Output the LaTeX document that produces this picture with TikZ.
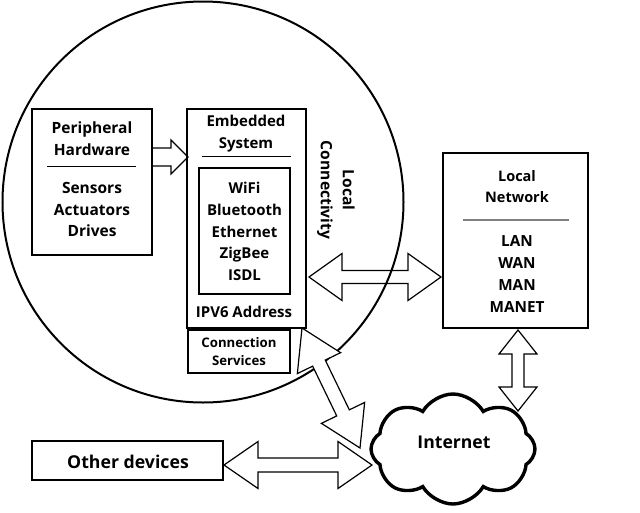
\documentclass[tikz,border=0pt]{standalone}
\usepackage{fontspec}
\setmainfont{Open Sans}
\usetikzlibrary{calc,shapes.symbols}
\tikzset{
  box/.style={draw, line width=1.2pt, rectangle, inner sep=0pt},
  txt/.style={font=\fontsize{15}{21.7}\selectfont\bfseries, align=center, inner sep=0pt},
  smalltxt/.style={font=\fontsize{13.2}{18}\selectfont\bfseries, align=center, inner sep=0pt},
  bigtxt/.style={font=\fontsize{17.7}{20}\selectfont\bfseries, align=center, inner sep=0pt},
  conn/.style={draw, line width=1.2pt, line join=miter},
  dblarrow/.style n args={3}{to path={
   -- ($(\tikztostart)!#1!(\tikztotarget)!#2!90:(\tikztotarget)$)
   -- ($(\tikztostart)!#1!(\tikztotarget)!#3!90:(\tikztotarget)$)
   -- ($(\tikztotarget)!#1!(\tikztostart)!#3!-90:(\tikztostart)$)
   -- ($(\tikztotarget)!#1!(\tikztostart)!#2!-90:(\tikztostart)$)
   -- (\tikztotarget)
   -- ($(\tikztotarget)!#1!(\tikztostart)!#2!90:(\tikztostart)$)
   -- ($(\tikztotarget)!#1!(\tikztostart)!#3!90:(\tikztostart)$)
   -- ($(\tikztostart)!#1!(\tikztotarget)!#3!-90:(\tikztotarget)$)
   -- ($(\tikztostart)!#1!(\tikztotarget)!#2!-90:(\tikztotarget)$)
   -- cycle}},
  sarrow/.style n args={3}{to path={
   ($(\tikztostart)!#3!90:(\tikztotarget)$)
   -- ($(\tikztotarget)!#1!(\tikztostart)!#3!-90:(\tikztostart)$)
   -- ($(\tikztotarget)!#1!(\tikztostart)!#2!-90:(\tikztostart)$)
   -- (\tikztotarget)
   -- ($(\tikztotarget)!#1!(\tikztostart)!#2!90:(\tikztostart)$)
   -- ($(\tikztotarget)!#1!(\tikztostart)!#3!90:(\tikztostart)$)
   -- ($(\tikztostart)!#3!-90:(\tikztotarget)$)}}
}
\begin{document}
\begin{tikzpicture}[x=1pt,y=-1pt]
\useasboundingbox[fill=white] (0,0) rectangle (640,512);
% big circle
\draw[line width=2pt] (203,202) circle[radius=200.5pt];

% peripheral hardware
\node[box, minimum width=120pt, minimum height=146pt] (periph) at (92,182) {};
\node[txt, font=\fontsize{15.5}{21.7}\selectfont\bfseries] (periphT) at (92,139) {Peripheral\\Hardware};
\draw[line width=0.9pt] (47,166) -- (136,166);
\node[txt, font=\fontsize{15.5}{21.7}\selectfont\bfseries] (periphL) at (92,209.5) {Sensors\\Actuators\\Drives};

% embedded system
\node[box, minimum width=119pt, minimum height=219pt] (emb) at (246.5,218.5) {};
\node[txt] (embT) at (246,133.5) {Embedded\\System};
\draw[line width=0.9pt] (202,156) -- (291,156);
\node[box, minimum width=91pt, minimum height=126pt] (inner) at (244.5,231) {};
\node[txt] (innerL) at (244.5,231.5) {WiFi\\Bluetooth\\Ethernet\\ZigBee\\ISDL};
\node[txt] (ipv6) at (244,312) {IPV6 Address};

% connection services
\node[box, minimum width=102pt, minimum height=43pt] (cs) at (239,351.5) {};
\node[smalltxt] (csT) at (239,352) {Connection\\Services};

% local connectivity
\node[txt, rotate=-90, font=\fontsize{15.6}{22}\selectfont\bfseries] (lc) at (336,190) {Local\\Connectivity};

% local network
\node[smalltxt, font=\fontsize{14.5}{21}\selectfont\bfseries] (lnT) at (517,186.5) {Local\\Network};
\node[box, minimum width=145pt, minimum height=175pt] (ln) at (515.5,240.5) {};
\draw[line width=1.2pt, gray] (463,220) -- (569,220);
\node[txt, font=\fontsize{15.3}{22}\selectfont\bfseries] (lnL) at (517,274) {LAN\\WAN\\MAN\\MANET};

% other devices
\node[box, minimum width=191pt, minimum height=39pt] (od) at (127.5,460.5) {};
\node[bigtxt] (odT) at (128,462) {Other devices};

% internet cloud
\node[cloud, draw, line width=3.4pt, cloud puffs=8, cloud puff arc=120, aspect=1.45,
      minimum width=164pt, minimum height=110pt, inner sep=0pt] (inet) at (453,449) {};
\node[font=\fontsize{17.6}{20}\selectfont\bfseries, inner sep=0pt] (inetT) at (454,442) {Internet};

% connector end points
\coordinate (pA) at (152,157);
\coordinate (pB) at (188,157);
\coordinate (hA) at (309,277);
\coordinate (hB) at (441,277);
\coordinate (vA) at (518,330);
\coordinate (vB) at (518,411);
\coordinate (dA) at (302,328);
\coordinate (dB) at (360,448);
\coordinate (oA) at (224,465);
\coordinate (oB) at (372,465);

% connectors
\draw[conn] (pA) to[sarrow={17pt}{17pt}{9pt}] (pB);
\draw[conn] (hA) to[dblarrow={33pt}{23.5pt}{6.5pt}] (hB);
\draw[conn] (vA) to[dblarrow={24pt}{19pt}{6pt}] (vB);
\draw[conn, fill=white] (dA) to[dblarrow={39pt}{24pt}{7pt}] (dB);
\draw[conn, fill=white] (oA) to[dblarrow={34pt}{23.5pt}{7pt}] (oB);
\end{tikzpicture}
\end{document}
